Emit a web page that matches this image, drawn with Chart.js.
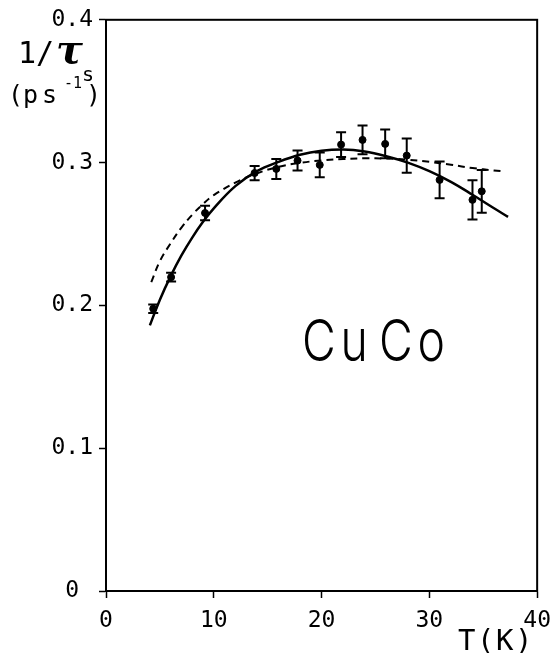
<!DOCTYPE html>
<html>
<head>
<meta charset="utf-8">
<script src="https://cdn.jsdelivr.net/npm/chart.js@4.4.1/dist/chart.umd.min.js"></script>
<style>
  html, body { margin: 0; padding: 0; background: #fff; }
  #c { display: block; }
</style>
</head>
<body>
<canvas id="c" width="560" height="653"></canvas>
<script>
// measured points, T in K, 1/tau_s in ps^-1, with error half-widths
var pointT   = [4.38, 6.04, 9.19, 13.79, 15.8, 17.77, 19.83, 21.81, 23.8, 25.9, 27.9, 30.95, 34.0, 34.86];
var pointV   = [0.1977, 0.2198, 0.2647, 0.2927, 0.2956, 0.3014, 0.2984, 0.3126, 0.3159, 0.3131, 0.3049, 0.2879, 0.2739, 0.2799];
var pointErr = [0.003, 0.003, 0.005, 0.005, 0.007, 0.007, 0.0086, 0.0087, 0.010, 0.010, 0.012, 0.0128, 0.0137, 0.015];

// solid fit curve
var solidT = [4.07, 5, 6, 7, 8, 9, 10, 12, 14, 16, 18, 20, 22, 24, 26, 28, 30, 32, 34, 36, 37.3];
var solidV = [0.186, 0.204, 0.2205, 0.235, 0.2475, 0.2585, 0.268, 0.2835, 0.294, 0.3005, 0.3055, 0.3083, 0.3092, 0.3078, 0.3045, 0.300, 0.294, 0.2865, 0.2775, 0.268, 0.262];

// dashed fit curve
var dashT = [4.2, 5, 6, 7, 8, 9, 10, 12, 14, 16, 18, 20, 22, 24, 26, 28, 30, 32, 34, 36, 37];
var dashV = [0.2163, 0.231, 0.2435, 0.2545, 0.2635, 0.271, 0.2772, 0.286, 0.2925, 0.297, 0.2998, 0.3015, 0.3025, 0.303, 0.3028, 0.302, 0.3005, 0.2985, 0.2962, 0.2945, 0.2938];

var xTicks = [0, 10, 20, 30, 40];
var yTicks = [0, 0.1, 0.2, 0.3, 0.4];

function toXY(xs, ys) {
    var out = [];
    for (var i = 0; i < xs.length; i++) out.push({ x: xs[i], y: ys[i] });
    return out;
}

var MONO = "'DejaVu Sans Mono', monospace";

// white page behind everything
var bgPlugin = {
    id: 'bg',
    beforeDraw: function(chart) {
        var ctx = chart.ctx;
        ctx.save();
        ctx.fillStyle = '#fff';
        ctx.fillRect(0, 0, chart.width, chart.height);
        ctx.restore();
    }
};

// error bars + box frame + text labels
var extrasPlugin = {
    id: 'extras',
    afterDatasetsDraw: function(chart) {
        var ctx = chart.ctx;
        var xs = chart.scales.x, ys = chart.scales.y;
        ctx.save();
        ctx.strokeStyle = '#000';
        ctx.lineWidth = 2;
        for (var i = 0; i < pointT.length; i++) {
            var px = xs.getPixelForValue(pointT[i]);
            var top = ys.getPixelForValue(pointV[i] + pointErr[i]);
            var bot = ys.getPixelForValue(pointV[i] - pointErr[i]);
            ctx.beginPath();
            ctx.moveTo(px, top); ctx.lineTo(px, bot);
            ctx.moveTo(px - 5, top); ctx.lineTo(px + 5, top);
            ctx.moveTo(px - 5, bot); ctx.lineTo(px + 5, bot);
            ctx.stroke();
        }
        ctx.restore();
    },
    afterDraw: function(chart) {
        var ctx = chart.ctx;
        var a = chart.chartArea;
        ctx.save();
        ctx.strokeStyle = '#000';
        ctx.lineWidth = 2;
        ctx.strokeRect(a.left, a.top, a.right - a.left, a.bottom - a.top);

        ctx.fillStyle = '#000';
        ctx.textBaseline = 'alphabetic';
        ctx.textAlign = 'left';

        // y axis title: 1/tau_s (ps^-1)
        ctx.font = '30px ' + MONO;
        ctx.fillText('1', 18, 63);
        ctx.fillText('/', 36, 63);
        ctx.font = 'italic bold 40px "DejaVu Serif", serif';
        ctx.fillText('\u03c4', 56, 63);
        ctx.font = '20px ' + MONO;
        ctx.fillText('s', 82, 81);
        ctx.font = '25px ' + MONO;
        ctx.fillText('(', 8, 103);
        ctx.fillText('p', 23, 103);
        ctx.fillText('s', 42, 103);
        ctx.fillText(')', 86, 103);
        ctx.font = '15px ' + MONO;
        ctx.fillText('-1', 64, 88);

        // sample name, thin condensed letters
        ctx.font = '300 58px Inter, "DejaVu Sans", sans-serif';
        var name = 'CuCo';
        for (var k = 0; k < name.length; k++) {
            ctx.save();
            ctx.translate(302 + k * 38.5, 361);
            ctx.scale(0.8, 1);
            ctx.fillText(name[k], 0, 0);
            ctx.restore();
        }

        // x axis title
        ctx.font = '29px ' + MONO;
        var xt = 'T(K)';
        for (var m = 0; m < xt.length; m++) {
            ctx.fillText(xt[m], 458 + m * 19, 650);
        }
        ctx.restore();
    }
};

var ctx = document.getElementById('c').getContext('2d');
var chart = new Chart(ctx, {
    type: 'scatter',
    data: {
        datasets: [
            {
                label: 'solid',
                data: toXY(solidT, solidV),
                showLine: true,
                borderColor: '#000',
                borderWidth: 2.5,
                pointRadius: 0,
                tension: 0.4,
                fill: false
            },
            {
                label: 'dashed',
                data: toXY(dashT, dashV),
                showLine: true,
                borderColor: '#000',
                borderWidth: 2,
                borderDash: [7, 5],
                pointRadius: 0,
                tension: 0.4,
                fill: false
            },
            {
                label: 'data',
                data: toXY(pointT, pointV),
                showLine: false,
                pointRadius: 3.5,
                pointBackgroundColor: '#000',
                pointBorderColor: '#000'
            }
        ]
    },
    options: {
        responsive: false,
        animation: false,
        devicePixelRatio: 1,
        layout: { padding: { left: 0, top: 19, right: 18, bottom: 0 } },
        plugins: {
            legend: { display: false },
            tooltip: { enabled: false }
        },
        scales: {
            x: {
                type: 'linear',
                min: 0,
                max: 40,
                afterBuildTicks: function(scale) {
                    scale.ticks = xTicks.map(function(v) { return { value: v }; });
                },
                afterFit: function(scale) { scale.height = 62; },
                ticks: {
                    color: '#000',
                    font: { family: MONO, size: 23 },
                    padding: 9,
                    maxRotation: 0,
                    callback: function(v) { return String(v); }
                },
                grid: {
                    drawOnChartArea: false,
                    drawTicks: true,
                    tickLength: 7,
                    tickColor: '#000',
                    tickWidth: 1.5
                },
                border: { display: true, color: '#000', width: 2 }
            },
            y: {
                type: 'linear',
                min: 0,
                max: 0.4,
                afterBuildTicks: function(scale) {
                    scale.ticks = yTicks.map(function(v) { return { value: v }; });
                },
                afterFit: function(scale) { scale.width = 106; },
                ticks: {
                    color: '#000',
                    font: { family: MONO, size: 23 },
                    padding: 6,
                    callback: function(v) { return v === 0 ? '0 ' : v.toFixed(1); }
                },
                grid: {
                    drawOnChartArea: false,
                    drawTicks: true,
                    tickLength: 7,
                    tickColor: '#000',
                    tickWidth: 1.5
                },
                border: { display: true, color: '#000', width: 2 }
            }
        }
    },
    plugins: [bgPlugin, extrasPlugin]
});
</script>
</body>
</html>
